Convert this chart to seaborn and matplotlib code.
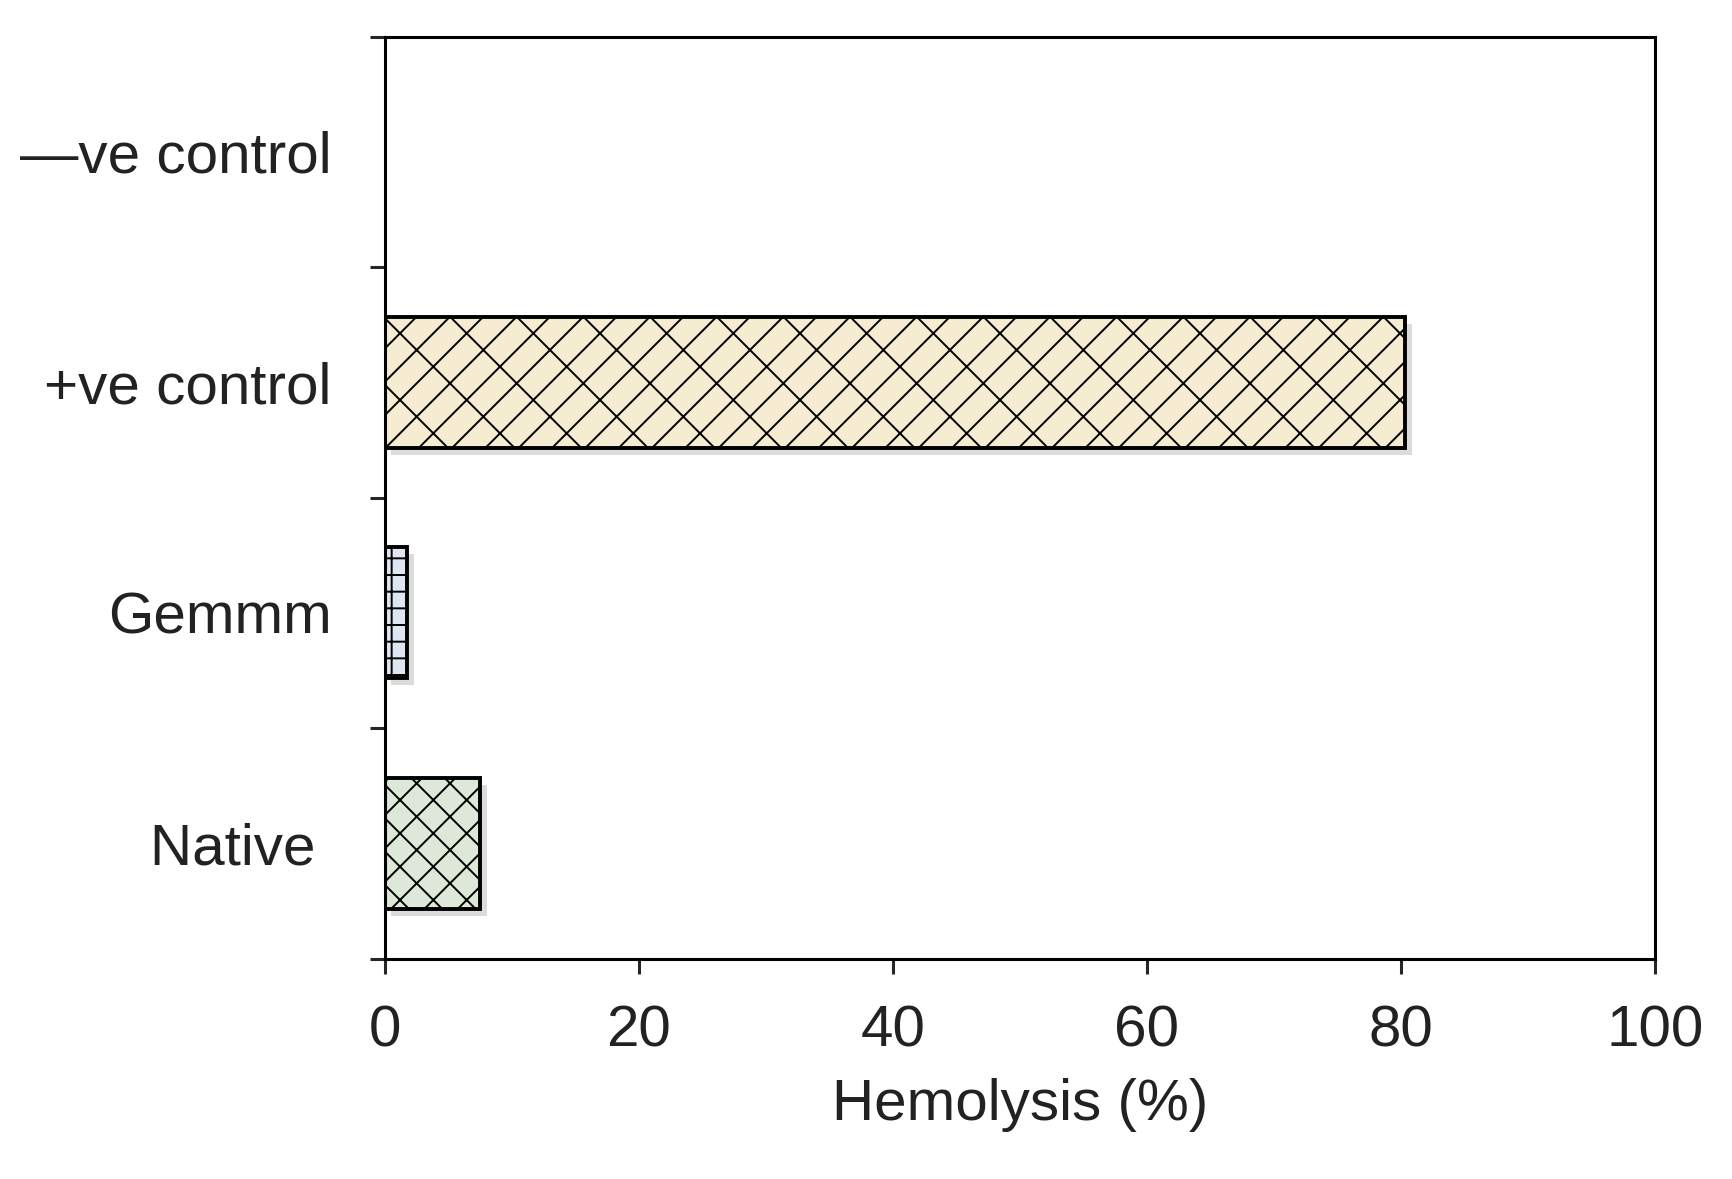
import seaborn as sns
import pandas as pd
import matplotlib.pyplot as plt
import matplotlib.patheffects as pe

# hemolysis results
groups = ['—ve control', '+ve control', 'Gemmm', 'Native ']
hemolysis = [0.0, 80.3, 1.8, 7.5]
fills = ['#FFFFFF', '#FCEFCB', '#DCE4F4', '#DDEBD5']
hatches = ['', 'x/', '++', 'xx']
xticks = [0, 20, 40, 60, 80, 100]

df = pd.DataFrame({'group': groups, 'hemolysis': hemolysis})

sns.set_style('ticks')
plt.rcParams['font.family'] = ['Liberation Sans', 'DejaVu Sans']
plt.rcParams['hatch.linewidth'] = 0.7

# half-size figure at 200 dpi so the hatch cells come out coarse like the original
fig = plt.figure(figsize=(8.66, 5.895), dpi=200)
ax = fig.add_axes([0.222, 0.187, 0.7335, 0.782])

sns.barplot(data=df, x='hemolysis', y='group', hue='group', palette=fills,
            legend=False, width=0.57, edgecolor='black', linewidth=1.4,
            orient='h', ax=ax)

for bar, h in zip(ax.patches, hatches):
    bar.set_hatch(h)
    bar.set_path_effects([pe.SimplePatchShadow(offset=(2.5, -2.5), shadow_rgbFace='#999999',
                                               alpha=0.35, hatch=None),
                          pe.Normal()])

ax.set_xlim(0, 100)
ax.set_ylim(3.5, -0.5)
ax.set_xticks(xticks)
ax.set_xticklabels([str(t) for t in xticks])
ax.set_yticks(range(len(groups)))
ax.set_yticks([i - 0.5 for i in range(len(groups) + 1)], minor=True)

for side in ['top', 'right', 'left', 'bottom']:
    ax.spines[side].set_visible(True)
    ax.spines[side].set_linewidth(1.1)
    ax.spines[side].set_color('black')

ax.tick_params(axis='y', which='major', length=0, pad=19, labelsize=21, labelcolor='#222222')
ax.tick_params(axis='y', which='minor', length=5.5, width=1.1, direction='out')
ax.tick_params(axis='x', which='major', length=5.5, width=1.1, direction='out', pad=11,
               labelsize=21, labelcolor='#222222')

ax.set_ylabel('')
ax.set_xlabel('Hemolysis (%)', fontsize=21, color='#222222', labelpad=7)

fig.savefig('out.png', dpi=200)
